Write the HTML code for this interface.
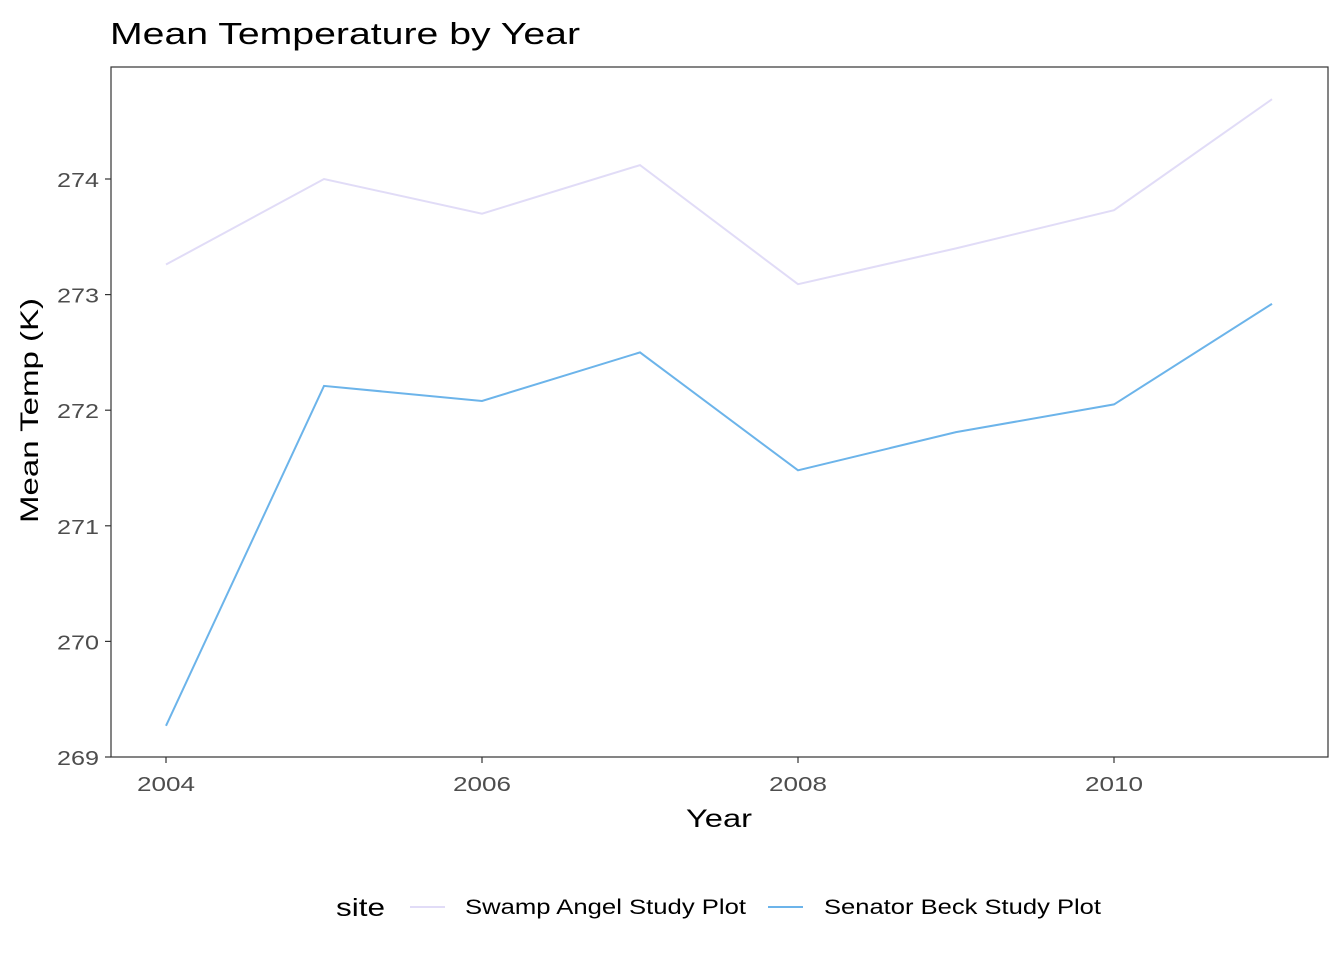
<!DOCTYPE html>
<html><head><meta charset="utf-8"><style>
body{margin:0;background:#fff;font-family:"Liberation Sans",Arial,sans-serif}
</style></head><body>
<svg id="chart" width="1344" height="960" xmlns="http://www.w3.org/2000/svg" font-family="Liberation Sans, Arial, sans-serif">
<text x="110" y="44" font-size="31" textLength="470" lengthAdjust="spacingAndGlyphs" fill="#000">Mean Temperature by Year</text>
<rect x="111" y="67" width="1217" height="690" fill="none" stroke="#333" stroke-width="1.2"/>
<g id="axes"></g>
<g id="series"></g>
<text x="686" y="827" font-size="25" textLength="66" lengthAdjust="spacingAndGlyphs">Year</text>
<text transform="translate(38,523) rotate(-90)" font-size="25" textLength="225" lengthAdjust="spacingAndGlyphs">Mean Temp (K)</text>
<g>
<text x="336" y="916" font-size="25" textLength="49" lengthAdjust="spacingAndGlyphs">site</text>
<line x1="410" y1="907" x2="445" y2="907" stroke="#e1dcf7" stroke-width="2"/>
<text x="465" y="914" font-size="21" textLength="281" lengthAdjust="spacingAndGlyphs">Swamp Angel Study Plot</text>
<line x1="768" y1="907" x2="803" y2="907" stroke="#6cb4ea" stroke-width="2"/>
<text x="824" y="914" font-size="21" textLength="277" lengthAdjust="spacingAndGlyphs">Senator Beck Study Plot</text>
</g>
</svg>
<script>
const years=[2004,2005,2006,2007,2008,2009,2010,2011];
const swampAngel=[273.26,274.0,273.70,274.12,273.09,273.40,273.73,274.69];
const senatorBeck=[269.27,272.21,272.08,272.50,271.48,271.81,272.05,272.92];
const xTicks=[2004,2006,2008,2010];
const yTicks=[269,270,271,272,273,274];
const NS="http://www.w3.org/2000/svg";
function xs(v){return 166+(v-2004)*158;}
function ys(v){return 757-(v-269)*115.6;}
const axes=document.getElementById('axes');
function mk(tag,attrs,parent){const e=document.createElementNS(NS,tag);for(const k in attrs)e.setAttribute(k,attrs[k]);parent.appendChild(e);return e;}
xTicks.forEach(t=>{
  const l=mk('line',{x1:xs(t),x2:xs(t),y1:757,y2:763,stroke:'#333','stroke-width':1.2},axes);
  
  
  const tx=mk('text',{x:xs(t)-29,y:791,'font-size':20,textLength:58,lengthAdjust:'spacingAndGlyphs',fill:'#4d4d4d'},axes);
  tx.textContent=t;
  
  
});
yTicks.forEach(t=>{
  const l=mk('line',{x1:105,x2:111,y1:ys(t),y2:ys(t),stroke:'#333','stroke-width':1.2},axes);
  
  
  const tx=mk('text',{x:57,y:ys(t)+8,'font-size':20,textLength:42,lengthAdjust:'spacingAndGlyphs',fill:'#4d4d4d'},axes);
  tx.textContent=t;
  
  
});
const series=document.getElementById('series');
function line(vals,color,name){
  const p=mk('polyline',{points:vals.map((v,i)=>xs(years[i])+','+ys(v)).join(' '),fill:'none',stroke:color,'stroke-width':2},series);
  
  
}
line(swampAngel,'#e1dcf7','swamp-angel-line');
line(senatorBeck,'#6cb4ea','senator-beck-line');
</script>
</body></html>
